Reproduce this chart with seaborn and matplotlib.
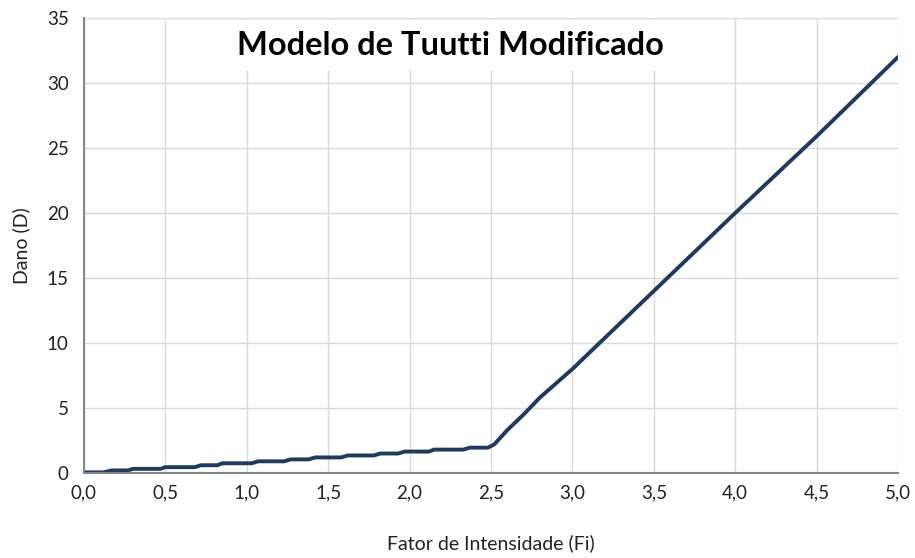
import matplotlib
matplotlib.use("Agg")
import matplotlib.pyplot as plt
import numpy as np
import pandas as pd
import seaborn as sns
from matplotlib.ticker import FuncFormatter

# Data (steps up to Fi = 2.5, then close to linear)
fi = [0.0, 0.12, 0.17, 0.27, 0.30, 0.47, 0.50, 0.68, 0.72, 0.82, 0.85, 1.03,
      1.07, 1.23, 1.27, 1.38, 1.42, 1.58, 1.62, 1.78, 1.82, 1.93, 1.97, 2.12,
      2.15, 2.33, 2.37, 2.48, 2.52, 2.60, 2.70, 2.80, 3.00, 3.50, 4.00, 4.50, 5.00]
dano = [0.05, 0.05, 0.20, 0.20, 0.32, 0.32, 0.45, 0.45, 0.60, 0.60, 0.75, 0.75,
        0.90, 0.90, 1.05, 1.05, 1.20, 1.20, 1.35, 1.35, 1.50, 1.50, 1.65, 1.65,
        1.80, 1.80, 1.95, 1.95, 2.20, 3.30, 4.50, 5.80, 8.00, 14.0, 20.0, 25.9, 32.0]
x_ticks = [0, 0.5, 1.0, 1.5, 2.0, 2.5, 3.0, 3.5, 4.0, 4.5, 5.0]
y_ticks = [0, 5, 10, 15, 20, 25, 30, 35]

df = pd.DataFrame({"Fi": fi, "D": dano})

sns.set_theme(style="white")
plt.rcParams["font.family"] = ["Lato", "DejaVu Sans"]

fig = plt.figure(figsize=(9.15, 5.58), dpi=100)
ax = fig.add_axes([0.0918, 0.1523, 0.8896, 0.8154])

sns.lineplot(data=df, x="Fi", y="D", ax=ax, color="#203a5e", linewidth=2.8)

ax.set_xlim(0, 5)
ax.set_ylim(0, 35)
ax.set_xticks(x_ticks)
ax.set_yticks(y_ticks)
ax.xaxis.set_major_formatter(FuncFormatter(lambda v, p: f"{v:.1f}".replace(".", ",")))
ax.yaxis.set_major_formatter(FuncFormatter(lambda v, p: f"{int(v)}"))
ax.grid(True, color="#d9d9d9", linewidth=1)
ax.set_axisbelow(True)

for s in ["top", "right"]:
    ax.spines[s].set_visible(False)
for s in ["left", "bottom"]:
    ax.spines[s].set_color("#868686")
    ax.spines[s].set_linewidth(1.5)

ax.tick_params(axis="both", which="major", direction="inout", length=10,
               width=1.3, color="#868686", labelsize=13.5, labelcolor="#222222")
ax.tick_params(axis="x", pad=3)
ax.tick_params(axis="y", pad=6)

ax.set_xlabel("Fator de Intensidade (Fi)", fontsize=14, color="#222222", labelpad=24)
ax.set_ylabel("Dano (D)", fontsize=14, color="#222222", labelpad=12)

ax.text(0.45, 0.94, "Modelo de Tuutti Modificado", transform=ax.transAxes,
        ha="center", va="center", fontsize=23.5, fontweight="bold", color="black",
        bbox=dict(facecolor="white", edgecolor="none", pad=8))

fig.savefig("out.png", dpi=100)
